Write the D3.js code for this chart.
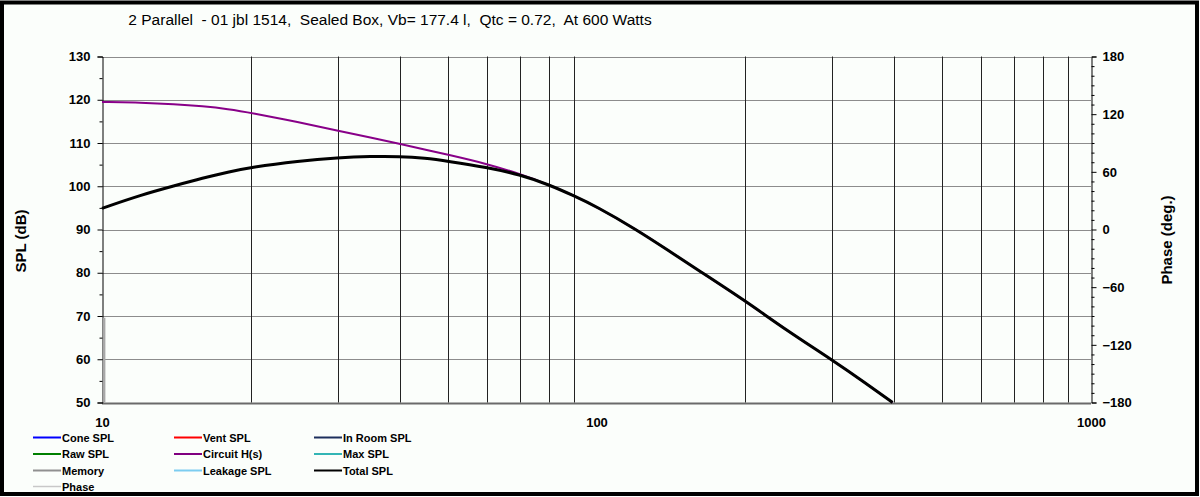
<!DOCTYPE html>
<html>
<head>
<meta charset="utf-8">
<script src="https://cdn.jsdelivr.net/npm/d3@7"></script>
<style>
  html, body { margin: 0; padding: 0; background: #ffffff; }
  svg { display: block; font-family: "Liberation Sans", Arial, sans-serif; }
  .tick text { fill: #000; }
</style>
</head>
<body>
<svg id="chart" width="1200" height="497"></svg>
<script>
const width = 1200, height = 497;

const title_text = "2 Parallel  - 01 jbl 1514,  Sealed Box, Vb= 177.4 l,  Qtc = 0.72,  At 600 Watts";

// Total SPL (black)
const total_freq = [10, 12, 14, 16, 18, 20, 25, 30, 35, 40, 45, 50, 60, 70, 80, 90, 100, 120, 140, 160, 200, 240, 300, 350, 397];
const total_spl  = [94.9, 98.0, 100.1, 101.9, 103.3, 104.4, 105.85, 106.6, 106.9, 106.9, 106.5, 105.8, 104.4, 102.7, 100.4, 97.8, 95.3, 90.1, 85.1, 80.7, 73.5, 67.0, 59.8, 54.5, 50.0];

// Circuit H(s) (purple), runs under the total SPL above ~70 Hz
const circuit_freq = [10, 12, 14, 16, 18, 20, 25, 30, 35, 40, 45, 50, 60, 70, 80, 90, 100, 120, 140, 160, 200, 240, 300, 350, 397];
const circuit_spl  = [119.5, 119.35, 119.0, 118.5, 117.85, 117.0, 114.8, 112.85, 111.25, 109.8, 108.5, 107.3, 105.2, 102.85, 100.4, 97.8, 95.3, 90.1, 85.1, 80.7, 73.5, 67.0, 59.8, 54.5, 50.0];

// Memory trace: short grey spike at the left edge
const memory_freq = [10.1, 10.1];
const memory_spl  = [69.6, 50];

const spl_ticks = [50, 60, 70, 80, 90, 100, 110, 120, 130];
const spl_minor = [55, 65, 75, 85, 95, 105, 115, 125];
const phase_ticks = [-180, -120, -60, 0, 60, 120, 180];
const phase_minor = d3.range(-170, 180, 10).filter(v => v % 60 !== 0);
const freq_labels = [10, 100, 1000];
const freq_grid = [20, 30, 40, 50, 60, 70, 80, 90, 200, 300, 400, 500, 600, 700, 800, 900];

const legend_names  = ["Cone SPL", "Vent SPL", "In Room SPL", "Raw SPL", "Circuit H(s)", "Max SPL", "Memory", "Leakage SPL", "Total SPL", "Phase"];
const legend_colors = ["#0000ff", "#ff0000", "#1c2f5c", "#008000", "#800080", "#33b5b5", "#909090", "#7ccdf0", "#000000", "#c8c8c8"];

const svg = d3.select("#chart");

// background + heavy frame
svg.append("rect")
    .attr("x", 2).attr("y", 2.5)
    .attr("width", 1195).attr("height", 491.5)
    .attr("fill", "#fbfefb")
    .attr("stroke", "#000")
    .attr("stroke-width", 4);

let x_scale = d3.scaleLog().domain([10, 1000]).range([102, 1091]);
let y_scale = d3.scaleLinear().domain([50, 130]).range([402.5, 56.5]);
let phase_scale = d3.scaleLinear().domain([-180, 180]).range([402.5, 56.5]);

// grid
svg.append("g")
    .selectAll("line")
    .data(spl_ticks)
    .join("line")
    .attr("x1", 102).attr("x2", 1091)
    .attr("y1", d => Math.round(y_scale(d)) + 0.5)
    .attr("y2", d => Math.round(y_scale(d)) + 0.5)
    .attr("stroke", d => (d === 50) ? "#6a6a6a" : "#8c8c8c")
    .attr("stroke-width", d => (d === 50) ? 2 : 1);

svg.append("g")
    .selectAll("line")
    .data(freq_grid)
    .join("line")
    .attr("x1", d => Math.round(x_scale(d)) + 0.5)
    .attr("x2", d => Math.round(x_scale(d)) + 0.5)
    .attr("y1", y_scale(130)).attr("y2", y_scale(50))
    .attr("stroke", "#222")
    .attr("stroke-width", 1);

// axes
let left_axis = d3.axisLeft(y_scale).tickValues(spl_ticks).tickSize(5).tickPadding(7).tickFormat(d3.format("d"));
svg.append("g")
    .attr("transform", "translate(102.5, 0)")
    .call(left_axis)
    .call(g => g.select(".domain").attr("stroke", "#000"))
    .selectAll("text")
    .style("font-size", "13px").style("font-weight", "bold");

svg.append("g")
    .attr("transform", "translate(102.5, 0)")
    .call(d3.axisLeft(y_scale).tickValues(spl_minor).tickSize(3).tickFormat(""))
    .call(g => g.select(".domain").remove());

let right_axis = d3.axisRight(phase_scale).tickValues(phase_ticks).tickSize(5).tickPadding(6).tickFormat(d3.format("d"));
svg.append("g")
    .attr("transform", "translate(1091.5, 0)")
    .call(right_axis)
    .selectAll("text")
    .style("font-size", "13px").style("font-weight", "bold");

svg.append("g")
    .attr("transform", "translate(1091.5, 0)")
    .call(d3.axisRight(phase_scale).tickValues(phase_minor).tickSize(3).tickFormat(""))
    .call(g => g.select(".domain").remove());

let bottom_axis = d3.axisBottom(x_scale).tickValues(freq_labels).tickSize(0).tickPadding(15).tickFormat(d3.format("d"));
svg.append("g")
    .attr("transform", "translate(0, 402.5)")
    .call(bottom_axis)
    .call(g => g.select(".domain").remove())
    .selectAll("text")
    .style("font-size", "13px").style("font-weight", "bold");

// curves
let spl_line = d3.line()
    .x(d => x_scale(d[0]))
    .y(d => y_scale(d[1]))
    .curve(d3.curveBasis);

svg.append("path")
    .datum(d3.zip(memory_freq, memory_spl))
    .attr("d", d3.line().x(d => x_scale(d[0])).y(d => y_scale(d[1])))
    .attr("fill", "none")
    .attr("stroke", "#a8a8a8")
    .attr("stroke-width", 2.5);

svg.append("path")
    .datum(d3.zip(circuit_freq, circuit_spl))
    .attr("d", spl_line)
    .attr("fill", "none")
    .attr("stroke", "#880088")
    .attr("stroke-width", 2);

svg.append("path")
    .datum(d3.zip(total_freq, total_spl))
    .attr("d", spl_line)
    .attr("fill", "none")
    .attr("stroke", "#000")
    .attr("stroke-width", 3)
    .attr("stroke-linejoin", "round");

// titles
svg.append("text")
    .attr("x", 390).attr("y", 25)
    .attr("text-anchor", "middle")
    .style("white-space", "pre")
    .style("font-size", "15.5px")
    .text(title_text);

svg.append("text")
    .attr("transform", "translate(26, 241) rotate(-90)")
    .attr("text-anchor", "middle")
    .style("font-size", "15px").style("font-weight", "bold")
    .text("SPL (dB)");

svg.append("text")
    .attr("transform", "translate(1172, 240) rotate(-90)")
    .attr("text-anchor", "middle")
    .style("font-size", "15px").style("font-weight", "bold")
    .text("Phase (deg.)");

// legend, three per row
let legend_col_x = [33, 174, 314];
let legend_row_y = [437.5, 454, 470.5, 486.5];
let legend = svg.append("g")
    .selectAll("g")
    .data(legend_names)
    .join("g")
    .attr("transform", (d, i) => "translate(" + legend_col_x[i % 3] + "," + legend_row_y[Math.floor(i / 3)] + ")");

legend.append("line")
    .attr("x1", 0).attr("x2", 28)
    .attr("y1", 0).attr("y2", 0)
    .attr("stroke", (d, i) => legend_colors[i])
    .attr("stroke-width", (d, i) => (legend_names[i] === "Phase") ? 1.5 : 2);

legend.append("text")
    .attr("x", 29).attr("y", 4)
    .style("font-size", "11px").style("font-weight", "bold")
    .text(d => d);
</script>
</body>
</html>
